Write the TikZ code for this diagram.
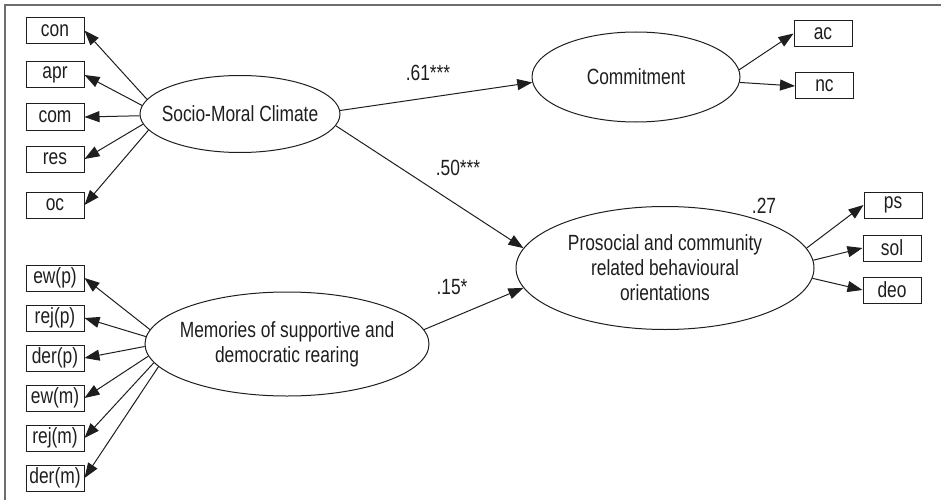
\documentclass[tikz,border=0pt]{standalone}
\usepackage{fontspec}
\setmainfont[FakeStretch=0.79]{Liberation Sans}
\usetikzlibrary{shapes.geometric,arrows.meta}
\definecolor{ink}{HTML}{1E1E1E}
\definecolor{framegray}{HTML}{6E6E6E}
\tikzset{
  txt/.style={font=\fontsize{22}{25}\selectfont, text=ink},
  obs/.style={txt, draw=ink, line width=1pt, rectangle, minimum width=58pt, minimum height=26pt, inner sep=0pt},
  lat/.style={txt, draw=ink, line width=1pt, ellipse, inner sep=-30pt, align=center},
  arr/.style={draw=ink, line width=1pt, -{Triangle[length=15pt,width=11pt]}},
  coef/.style={txt, inner sep=0pt}
}
\begin{document}
\begin{tikzpicture}[x=1pt,y=-1pt]
\useasboundingbox (0,0) rectangle (941,500);
\draw[framegray, line width=2pt] (5,500) -- (5,5) -- (941,5);
% latent variables
\node[lat, minimum width=200pt, minimum height=77pt] (smc) at (240,114) {Socio-Moral Climate};
\node[lat, minimum width=208pt, minimum height=90pt] (commit) at (636,77) {Commitment};
\node[lat, minimum width=298pt, minimum height=123pt] (pro) at (665,268) {Prosocial and community\\related behavioural\\orientations};
\node[lat, minimum width=284pt, minimum height=104pt] (mem) at (287,344) {Memories of supportive and\\democratic rearing};
% observed variables left top
\node[obs] (con) at (55,30.5) {con};
\node[obs] (apr) at (55,75) {apr};
\node[obs] (com) at (55,117) {com};
\node[obs] (res) at (55,159) {res};
\node[obs] (oc) at (55,205) {oc};
% observed left bottom
\node[obs] (ewp) at (55,278) {ew(p)};
\node[obs] (rejp) at (55,318) {rej(p)};
\node[obs] (derp) at (55,358) {der(p)};
\node[obs] (ewm) at (55,398) {ew(m)};
\node[obs] (rejm) at (55,438) {rej(m)};
\node[obs] (derm) at (55,478) {der(m)};
% observed right
\node[obs] (ac) at (823,33.5) {ac};
\node[obs] (nc) at (824.5,86) {nc};
\node[obs] (ps) at (893,205) {ps};
\node[obs] (sol) at (892,248) {sol};
\node[obs] (deo) at (892,290) {deo};
% loadings
\draw[arr] (smc.171) -- (con.east);
\draw[arr] (smc.175) -- (apr.east);
\draw[arr] (smc.181) -- (com.east);
\draw[arr] (smc.186) -- (res.east);
\draw[arr] (smc.190) -- (oc.east);
\draw[arr] (mem.174) -- (ewp.east);
\draw[arr] (mem.177) -- (rejp.east);
\draw[arr] (mem.181) -- (derp.east);
\draw[arr] (mem.185) -- (ewm.east);
\draw[arr] (mem.188) -- (rejm.east);
\draw[arr] (mem.190) -- (derm.east);
\draw[arr] (commit.4) -- (ac.west);
\draw[arr] (commit.357) -- (nc.west);
\draw[arr] (pro.8) -- (ps.west);
\draw[arr] (pro.3) -- (sol.west);
\draw[arr] (pro.356.5) -- (deo.west);
% structural paths
\draw[arr] (smc.2) -- (commit.183);
\draw[arr] (smc.353) -- (pro.172);
\draw[arr] (mem.6) -- (pro.188);
% coefficients
\node[coef] (c61) at (428,73) {.61***};
\node[coef] (c50) at (458,168) {.50***};
\node[coef] (c15) at (452,287) {.15*};
\node[coef] (r27) at (764,206) {.27};
\end{tikzpicture}
\end{document}
